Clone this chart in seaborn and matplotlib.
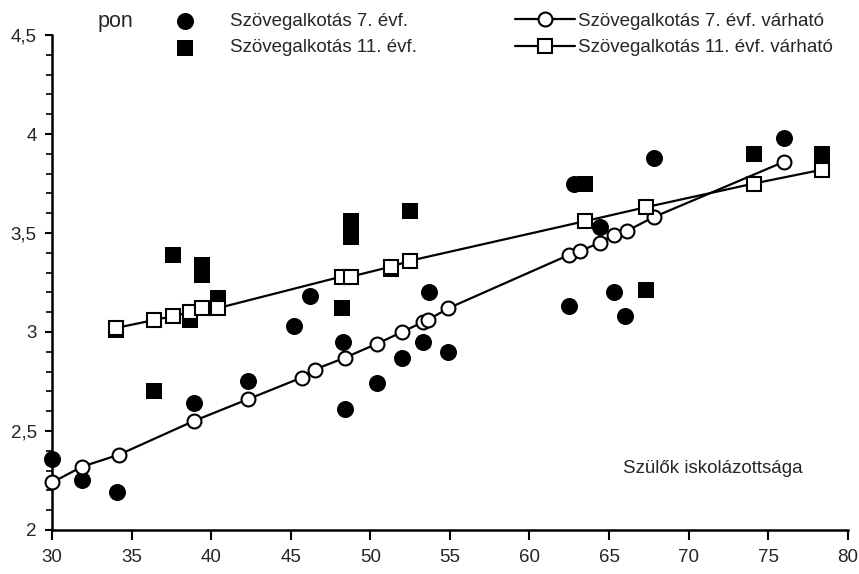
import matplotlib
matplotlib.use("Agg")
import matplotlib.pyplot as plt
import seaborn as sns
import pandas as pd

# observed scores, grade 7
x7 = [30.0, 31.9, 34.1, 38.9, 42.3, 45.2, 46.2, 48.3, 48.4, 50.4, 52.0, 53.3, 53.7, 54.9,
      62.5, 62.8, 64.4, 65.3, 66.0, 67.8, 76.0]
y7 = [2.36, 2.25, 2.19, 2.64, 2.75, 3.03, 3.18, 2.95, 2.61, 2.74, 2.87, 2.95, 3.20, 2.90,
      3.13, 3.75, 3.53, 3.20, 3.08, 3.88, 3.98]

# expected (fitted) scores, grade 7
x7e = [30.0, 31.9, 34.2, 38.9, 42.3, 45.7, 46.5, 48.4, 50.4, 52.0, 53.3, 53.6, 54.9,
       62.5, 63.2, 64.4, 65.3, 66.1, 67.8, 76.0]
y7e = [2.24, 2.32, 2.38, 2.55, 2.66, 2.77, 2.81, 2.87, 2.94, 3.00, 3.05, 3.06, 3.12,
       3.39, 3.41, 3.45, 3.49, 3.51, 3.58, 3.86]

# observed scores, grade 11
x11 = [34.0, 36.4, 37.6, 38.7, 39.4, 39.4, 40.4, 48.2, 48.8, 48.8, 51.3, 52.5,
       63.5, 67.3, 74.1, 78.4]
y11 = [3.01, 2.70, 3.39, 3.06, 3.34, 3.29, 3.17, 3.12, 3.56, 3.48, 3.32, 3.61,
       3.75, 3.21, 3.90, 3.90]

# expected (fitted) scores, grade 11
x11e = [34.0, 36.4, 37.6, 38.7, 39.4, 40.4, 48.2, 48.8, 51.3, 52.5, 63.5, 67.3, 74.1, 78.4]
y11e = [3.02, 3.06, 3.08, 3.10, 3.12, 3.12, 3.28, 3.28, 3.33, 3.36, 3.56, 3.63, 3.75, 3.82]

xticks = [30, 35, 40, 45, 50, 55, 60, 65, 70, 75, 80]
yticks = [2, 2.5, 3, 3.5, 4, 4.5]
ylabels = ["2", "2,5", "3", "3,5", "4", "4,5"]

lab7 = "Szövegalkotás 7. évf."
lab11 = "Szövegalkotás 11. évf."
lab7e = "Szövegalkotás 7. évf. várható"
lab11e = "Szövegalkotás 11. évf. várható"

sns.set_style("ticks")
plt.rcParams['font.family'] = ['Liberation Sans', 'DejaVu Sans']
fs = 13.5

fig = plt.figure(figsize=(8.59, 5.74), dpi=100)
ax = fig.add_axes([0.0605, 0.0767, 0.9265, 0.8623])

sns.scatterplot(x=x7, y=y7, ax=ax, marker="o", s=150, color="black",
                edgecolor="black", linewidth=0, label=lab7, zorder=2)
sns.scatterplot(x=x11, y=y11, ax=ax, marker="s", s=120, color="black",
                edgecolor="black", linewidth=0, label=lab11, zorder=2)

sns.lineplot(x=x7e, y=y7e, ax=ax, estimator=None, sort=True, color="black", lw=1.6,
             marker="o", markersize=10, markerfacecolor="white", markeredgecolor="black",
             markeredgewidth=1.5, label=lab7e, zorder=3)
sns.lineplot(x=x11e, y=y11e, ax=ax, estimator=None, sort=True, color="black", lw=1.6,
             marker="s", markersize=10, markerfacecolor="white", markeredgecolor="black",
             markeredgewidth=1.5, label=lab11e, zorder=3)

ax.set_xlim(30, 80)
ax.set_ylim(2, 4.5)
ax.set_xticks(xticks)
ax.set_xticklabels([str(t) for t in xticks], fontsize=fs)
ax.set_yticks(yticks)
ax.set_yticklabels(ylabels, fontsize=fs)
ax.set_yticks([2 + 0.1 * i for i in range(26)], minor=True)
ax.tick_params(axis="x", which="major", length=7, width=1.5, color="black", pad=7)
ax.tick_params(axis="y", which="major", length=5, width=1.5, color="black", pad=6)
ax.tick_params(axis="y", which="minor", length=4, width=1.2, color="black")
sns.despine(ax=ax)
for sp in ["left", "bottom"]:
    ax.spines[sp].set_linewidth(1.8)
    ax.spines[sp].set_color("black")
for coll in ax.collections:
    coll.set_clip_on(False)
for ln in ax.lines:
    ln.set_clip_on(False)

fig.text(0.113, 0.962, "pon", fontsize=15.5, ha="left", va="center")
ax.text(0.717, 0.125, "Szülők iskolázottsága", transform=ax.transAxes,
        fontsize=fs, ha="left", va="center")

# two legend blocks, as in the original
handles, labels = ax.get_legend_handles_labels()
leg1 = ax.legend(handles[:2], labels[:2], loc="upper left", bbox_to_anchor=(0.134, 1.060),
                 frameon=False, fontsize=fs, handlelength=2.0, handletextpad=1.4,
                 labelspacing=0.5, borderaxespad=0)
ax.add_artist(leg1)
ax.legend(handles[2:], labels[2:], loc="upper left", bbox_to_anchor=(0.572, 1.060),
          frameon=False, fontsize=fs, handlelength=3.2, handletextpad=0.2,
          labelspacing=0.5, borderaxespad=0)

plt.savefig("out.png", dpi=100)
